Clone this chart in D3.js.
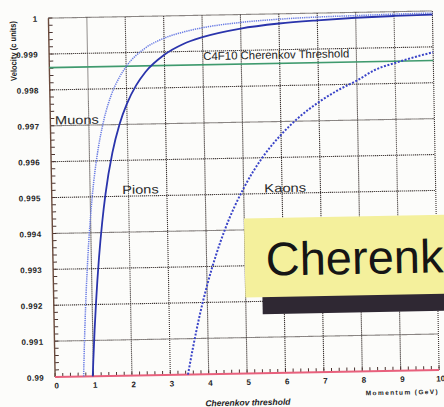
<!DOCTYPE html>
<html>
<head>
<meta charset="utf-8">
<script src="https://cdn.jsdelivr.net/npm/d3@7/dist/d3.min.js"></script>
<style>
  html, body { margin: 0; padding: 0; background: #fcfcfa; }
  svg { display: block; }
  text { font-family: "Liberation Sans", Arial, Helvetica, sans-serif; fill: #222; }
</style>
</head>
<body>
<script>
// Particle velocity (in units of c) versus momentum (GeV)
const muonMomentum = [0.742, 0.76, 0.8, 0.85, 0.9, 1.0, 1.1, 1.2, 1.4, 1.6, 1.8, 2.0, 2.5, 3, 3.5, 4, 5, 6, 7, 8, 9, 10];
const muonVelocity = [0.99, 0.99047, 0.99139, 0.99236, 0.99317, 0.99446, 0.99542, 0.99614, 0.99716, 0.99783, 0.99828, 0.99861, 0.99911, 0.99938, 0.99954, 0.99965, 0.99978, 0.99985, 0.99989, 0.99991, 0.99993, 0.99994];

const pionMomentum = [0.98, 1.0, 1.05, 1.1, 1.2, 1.3, 1.4, 1.6, 1.8, 2.0, 2.25, 2.5, 3, 3.5, 4, 5, 6, 7, 8, 9, 10];
const pionVelocity = [0.99, 0.9904, 0.99128, 0.99204, 0.9933, 0.99428, 0.99507, 0.99622, 0.99701, 0.99757, 0.99808, 0.99845, 0.99892, 0.99921, 0.99939, 0.99961, 0.99973, 0.9998, 0.99985, 0.99988, 0.9999];

const kaonMomentum = [3.46, 3.6, 3.8, 4.0, 4.25, 4.5, 5, 5.5, 6, 6.5, 7, 7.5, 8, 8.5, 9, 9.5, 10];
const kaonVelocity = [0.99, 0.99073, 0.99167, 0.99247, 0.99332, 0.99404, 0.99516, 0.996, 0.99663, 0.99713, 0.99752, 0.99784, 0.9981, 0.9984, 0.99857, 0.99872, 0.99885];

// C4F10 radiator threshold velocity
const thresholdVelocity = 0.99862;

const xTicks = [0, 1, 2, 3, 4, 5, 6, 7, 8, 9, 10];
const xTickLabels = ["0", "1", "2", "3", "4", "5", "6", "7", "8", "9", "10"];
const yTicks = [0.99, 0.991, 0.992, 0.993, 0.994, 0.995, 0.996, 0.997, 0.998, 0.999, 1];
const yTickLabels = ["0.99", "0.991", "0.992", "0.993", "0.994", "0.995", "0.996", "0.997", "0.998", "0.999", "1"];

const W = 444, H = 407;
const plot = { left: 51.75, right: 435.75, top: 14.5, bottom: 373.5 };

const svg = d3.select("body").append("svg")
  .attr("width", W).attr("height", H)
  .attr("viewBox", `0 0 ${W} ${H}`);

svg.append("rect").attr("width", W).attr("height", H).attr("fill", "#fcfcfa");

// the whole sheet sits slightly tilted
const g = svg.append("g").attr("transform", "rotate(-1.07, 243.75, 194)");

const x = d3.scaleLinear().domain([0, 10]).range([plot.left, plot.right]);
const y = d3.scaleLinear().domain([0.99, 1]).range([plot.bottom, plot.top]);

// dotted grid
const grid = g.append("g").attr("stroke", "#3d3533").attr("stroke-width", 1.1).attr("stroke-dasharray", "1.2,0.8");
grid.selectAll("line.v").data(xTicks.slice(1)).join("line")
  .attr("x1", d => x(d)).attr("x2", d => x(d))
  .attr("y1", plot.top).attr("y2", plot.bottom);
grid.selectAll("line.h").data(yTicks.slice(1)).join("line")
  .attr("x1", plot.left).attr("x2", plot.right)
  .attr("y1", d => y(d)).attr("y2", d => y(d));

// minor ticks pointing into the plot
const yMinor = d3.range(0, 51).map(i => 0.99 + i * 0.0002);
const xMinor = d3.range(0, 51).map(i => i * 0.2);
const ticks = g.append("g").attr("stroke", "#4a3430").attr("stroke-width", 1);
ticks.selectAll("line.ym").data(yMinor).join("line")
  .attr("x1", plot.left).attr("x2", plot.left + 4)
  .attr("y1", d => y(d)).attr("y2", d => y(d));
ticks.selectAll("line.xm").data(xMinor).join("line")
  .attr("x1", d => x(d)).attr("x2", d => x(d))
  .attr("y1", plot.bottom).attr("y2", plot.bottom - 4);

// axis lines
g.append("line").attr("x1", plot.left).attr("x2", plot.left)
  .attr("y1", plot.top).attr("y2", plot.bottom)
  .attr("stroke", "#6a4a3c").attr("stroke-width", 1.4);
g.append("line").attr("x1", plot.left).attr("x2", plot.right)
  .attr("y1", plot.bottom).attr("y2", plot.bottom)
  .attr("stroke", "#e8607c").attr("stroke-width", 2);

// tick labels
g.append("g").selectAll("text").data(xTicks).join("text")
  .attr("x", d => x(d) + 1.5).attr("y", plot.bottom + 11.5)
  .attr("text-anchor", "middle")
  .style("font-size", "8px").style("font-weight", "bold")
  .text((d, i) => xTickLabels[i]);
g.append("g").selectAll("text").data(yTicks).join("text")
  .attr("x", plot.left - 11).attr("y", d => y(d) + 3.3)
  .attr("text-anchor", "end")
  .style("font-size", "8px").style("font-weight", "bold").style("letter-spacing", "0.4px")
  .text((d, i) => yTickLabels[i]);

// axis titles
g.append("text")
  .attr("transform", "translate(19, 46.7) rotate(-90)")
  .attr("text-anchor", "middle")
  .style("font-size", "8.5px").style("font-weight", "bold")
  .attr("textLength", 60).attr("lengthAdjust", "spacingAndGlyphs")
  .text("Velocity (c units)");
g.append("text")
  .attr("x", 434).attr("y", 397.5)
  .attr("text-anchor", "end")
  .style("font-size", "6.5px").style("font-weight", "bold")
  .attr("textLength", 72).attr("lengthAdjust", "spacing")
  .text("Momentum (GeV)");
g.append("text")
  .attr("x", 244).attr("y", 405.5)
  .attr("text-anchor", "middle")
  .style("font-size", "8.5px").style("font-weight", "bold").style("font-style", "italic")
  .text("Cherenkov threshold");

// threshold line
g.append("line")
  .attr("x1", plot.left).attr("x2", plot.right)
  .attr("y1", y(thresholdVelocity)).attr("y2", y(thresholdVelocity))
  .attr("stroke", "#3f9a6e").attr("stroke-width", 1.6);
g.append("text")
  .attr("x", 205.8).attr("y", 59.3)
  .style("font-size", "11.3px")
  .attr("textLength", 146).attr("lengthAdjust", "spacingAndGlyphs")
  .text("C4F10 Cherenkov Threshold");

// velocity curves
const line = d3.line().x(d => x(d[0])).y(d => y(d[1])).curve(d3.curveMonotoneX);
const zip = (a, b) => a.map((v, i) => [v, b[i]]);

g.append("path").datum(zip(muonMomentum, muonVelocity))
  .attr("d", line).attr("fill", "none")
  .attr("stroke", "#6a7ce4").attr("stroke-width", 1.5).attr("stroke-dasharray", "1.3,0.9");
g.append("path").datum(zip(pionMomentum, pionVelocity))
  .attr("d", line).attr("fill", "none")
  .attr("stroke", "#2a34ac").attr("stroke-width", 1.8);
g.append("path").datum(zip(kaonMomentum, kaonVelocity))
  .attr("d", line).attr("fill", "none")
  .attr("stroke", "#3a44c8").attr("stroke-width", 2).attr("stroke-dasharray", "2,1.6");

// curve labels
const labelStyle = sel => sel.style("font-size", "12px").style("fill", "#2a2a2a");
g.append("text").attr("x", 56.3).attr("y", 121).call(labelStyle)
  .attr("textLength", 44).attr("lengthAdjust", "spacingAndGlyphs").text("Muons");
g.append("text").attr("x", 122.3).attr("y", 191.7).call(labelStyle)
  .attr("textLength", 36.5).attr("lengthAdjust", "spacingAndGlyphs").text("Pions");
g.append("text").attr("x", 264.3).attr("y", 192.9).call(labelStyle)
  .attr("textLength", 42).attr("lengthAdjust", "spacingAndGlyphs").text("Kaons");

// title card with drop shadow
const card = { x: 243.5, y: 218.5, w: 260, h: 79 };
g.append("rect").attr("x", card.x + 17).attr("y", card.y + 17)
  .attr("width", card.w).attr("height", card.h).attr("fill", "#2f2833");
g.append("rect").attr("x", card.x).attr("y", card.y)
  .attr("width", card.w).attr("height", card.h).attr("fill", "#f4f09c");
g.append("text").attr("x", 264.5).attr("y", 276)
  .style("font-size", "47px").style("fill", "#151515")
  .text("Cherenk");
</script>
</body>
</html>
